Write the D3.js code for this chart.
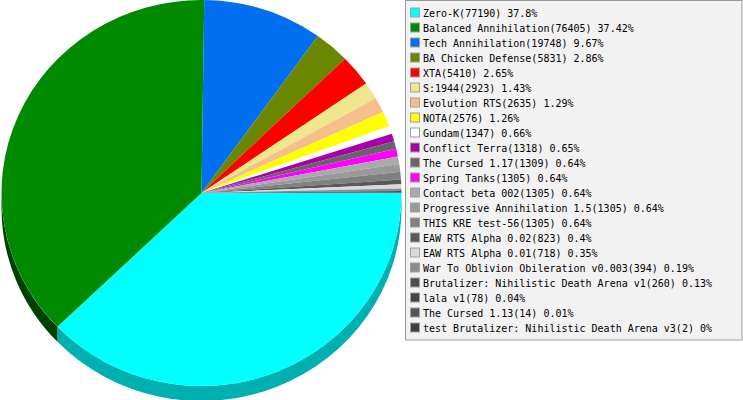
<!DOCTYPE html>
<html><head><meta charset="utf-8">
<script src="https://cdn.jsdelivr.net/npm/d3@7"></script>
<style>html,body{margin:0;padding:0;background:#fff;}svg{display:block;}</style>
</head><body>
<svg id="chart" width="743" height="400"></svg>
<script>
const categories = ["Zero-K","Balanced Annihilation","Tech Annihilation","BA Chicken Defense","XTA","S:1944","Evolution RTS","NOTA","Gundam","Conflict Terra","The Cursed 1.17","Spring Tanks","Contact beta 002","Progressive Annihilation 1.5","THIS KRE test-56","EAW RTS Alpha 0.02","EAW RTS Alpha 0.01","War To Oblivion Obileration v0.003","Brutalizer: Nihilistic Death Arena v1","lala v1","The Cursed 1.13","test Brutalizer: Nihilistic Death Arena v3"];
const counts = [77190,76405,19748,5831,5410,2923,2635,2576,1347,1318,1309,1305,1305,1305,1305,823,718,394,260,78,14,2];
const percents = ["37.8","37.42","9.67","2.86","2.65","1.43","1.29","1.26","0.66","0.65","0.64","0.64","0.64","0.64","0.64","0.4","0.35","0.19","0.13","0.04","0.01","0"];
const colors = ["#00ffff","#008a00","#0070f0","#6b8600","#ff0000","#f0e68c","#f4bf8a","#ffff00","#ffffff","#aa00aa","#666666","#ff00ff","#aaaaaa","#999999","#808080","#595959","#dadada","#8c8c8c","#4d4d4d","#444444","#555555","#3d3d3d"];
const sideColors = ["#00afaf","#004000","#003c80","#354300","#800000","#78734a","#7a6045","#808000","#808080","#550055","#333333","#800080","#555555","#4d4d4d","#404040","#2d2d2d","#6d6d6d","#464646","#262626","#222222","#2b2b2b","#1f1f1f"];

const svg = d3.select("#chart");
const cx = 201.5, cy = 193, rx = 200, ry = 193, depth = 15;
const k = ry / rx;

const pie = d3.pie().sort(null).value(d => d)
  .startAngle(Math.PI / 2).endAngle(Math.PI / 2 + 2 * Math.PI);
const arcs = pie(counts);
const arcGen = d3.arc().innerRadius(0).outerRadius(rx);

const g = svg.append("g").attr("transform", `translate(${cx},${cy}) scale(1,${k})`);

// sides (visible for screen angles 0..PI i.e. d3 angles PI/2..3PI/2)
const D = depth / k;
arcs.forEach((a, i) => {
  const t0 = Math.max(a.startAngle, Math.PI / 2);
  const t1 = Math.min(a.endAngle, 3 * Math.PI / 2);
  if (t1 <= t0) return;
  const f0 = t0 - Math.PI / 2, f1 = t1 - Math.PI / 2;
  const p = d3.path();
  p.moveTo(rx * Math.cos(f0), rx * Math.sin(f0));
  p.arc(0, 0, rx, f0, f1);
  p.lineTo(rx * Math.cos(f1), rx * Math.sin(f1) + D);
  p.arc(0, D, rx, f1, f0, true);
  p.closePath();
  g.append("path").attr("d", p.toString()).attr("fill", sideColors[i]);
});

g.selectAll("path.slice").data(arcs).join("path")
  .attr("class", "slice")
  .attr("d", arcGen)
  .attr("fill", (d, i) => colors[i]);

// legend
const lx = 405, ly = 0, lw = 336.5, lh = 340, step = 15;
svg.append("rect").attr("x", lx + 0.5).attr("y", ly + 0.5).attr("width", lw).attr("height", lh - 0.5)
  .attr("fill", "#f2f2f2").attr("stroke", "#999999").attr("stroke-width", 1);

const items = svg.append("g").selectAll("g").data(categories).join("g")
  .attr("transform", (d, i) => `translate(0,${ly + 12.5 + i * step})`);
items.append("rect").attr("x", 410.5).attr("y", -4.5).attr("width", 9).attr("height", 9)
  .attr("fill", (d, i) => colors[i]).attr("stroke", "#a0a0a0").attr("stroke-width", 1);
items.append("text").attr("x", 423).attr("y", 4)
  .attr("font-family", "'DejaVu Sans Mono', monospace").attr("font-size", "10px").attr("fill", "#000")
  .text((d, i) => `${d}(${counts[i]}) ${percents[i]}%`);
</script>
</body></html>
